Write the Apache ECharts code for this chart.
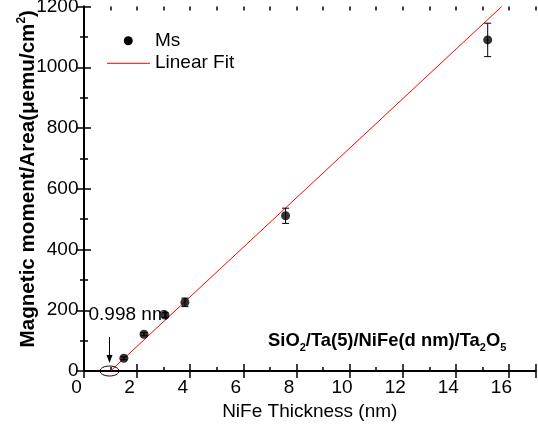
<!DOCTYPE html>
<html><head><meta charset="utf-8">
<script src="https://cdn.jsdelivr.net/npm/echarts@6/dist/echarts.min.js"></script>
<style>html,body{margin:0;padding:0;background:#fff}#c{width:538px;height:433px}</style>
</head><body><div id="c"></div>
<script>
// ---- data ----
const thickness = [1.50, 2.26, 3.05, 3.80, 7.59, 15.20];   // NiFe thickness (nm)
const moment    = [42, 121, 184, 226, 511, 1090];          // Ms (μemu/cm²)
const momentErr = [5, 5, 8, 14, 25, 55];                    // error bar half-heights
const fitX = [0.998, 15.73];                                // linear fit end points
const fitY = [0, 1200];
const xTickLabels = [0, 2, 4, 6, 8, 10, 12, 14, 16];
const yTickLabels = [0, 200, 400, 600, 800, 1000, 1200];
const interceptX = 0.998;
const interceptText = '0.998 nm';
const xTitle = 'NiFe Thickness (nm)';
const yTitle = 'Magnetic moment/Area(μemu/cm{sup|2})';
const legendNames = ['Ms', 'Linear Fit'];
const sampleText = '{b|SiO}{s|2}{b|/Ta(5)/NiFe(d nm)/Ta}{s|2}{b|O}{s|5}';

const FONT = '"Liberation Sans", Arial, sans-serif';
const chart = echarts.init(document.getElementById('c'), null, {renderer: 'canvas'});

const axisLine = {show: true, lineStyle: {color: '#000', width: 2}};
const majorTick = {show: true, inside: true, length: 7, lineStyle: {color: '#000', width: 1.5}};
const minorTickX = {show: true, inside: true, length: 4, lineStyle: {color: '#000', width: 1.5}};

const scatterData = thickness.map((x, i) => [x, moment[i]]);
const errData = thickness.map((x, i) => [x, moment[i] - momentErr[i], moment[i] + momentErr[i]]);
const fitData = fitX.map((x, i) => [x, fitY[i]]);

const xBase = {type: 'value', min: 0, max: 17, splitLine: {show: false}};
const option = {
  animation: false,
  backgroundColor: '#fff',
  grid: {left: 84, right: 2.5, top: 6.5, bottom: 62, containLabel: false, outerBoundsMode: 'none'},
  xAxis: [
    Object.assign({}, xBase, {
      position: 'bottom', interval: 2, axisLine, axisTick: majorTick,
      axisLabel: {
        color: '#000', fontSize: 19, fontFamily: FONT, margin: 7, padding: [0, 15, 0, 0],
        formatter: v => xTickLabels.indexOf(v) >= 0 ? String(v) : ''
      },
      name: xTitle, nameLocation: 'middle', nameGap: 31, nameMoveOverlap: false,
      nameTextStyle: {color: '#000', fontSize: 19, fontFamily: FONT}
    }),
    Object.assign({}, xBase, {position: 'top', interval: 2, axisLine, axisTick: majorTick, axisLabel: {show: false}}),
    Object.assign({}, xBase, {position: 'bottom', interval: 1, axisLine: {show: false}, axisTick: minorTickX, axisLabel: {show: false}}),
    Object.assign({}, xBase, {position: 'top', interval: 1, axisLine: {show: false}, axisTick: minorTickX, axisLabel: {show: false}})
  ],
  yAxis: [
    {
      type: 'value', position: 'left', min: 0, max: 1200, interval: 200,
      axisLine, axisTick: majorTick, splitLine: {show: false},
      minorTick: {show: true, splitNumber: 2, length: 4, lineStyle: {color: '#000', width: 1.5}},
      axisLabel: {
        color: '#000', fontSize: 19, fontFamily: FONT, margin: 5.5,
        formatter: v => yTickLabels.indexOf(v) >= 0 ? String(v) : ''
      },
      name: yTitle, nameLocation: 'middle', nameGap: 44, nameMoveOverlap: false,
      nameTextStyle: {
        color: '#000', fontSize: 20.6, fontWeight: 'bold', fontFamily: FONT, lineHeight: 24,
        padding: [0, 0, 0, 20],
        rich: {sup: {fontSize: 12, fontWeight: 'bold', fontFamily: FONT, verticalAlign: 'top', color: '#000'}}
      }
    },
    {
      type: 'value', position: 'right', min: 0, max: 1200, interval: 200,
      axisLine, axisTick: majorTick, splitLine: {show: false},
      minorTick: {show: true, splitNumber: 2, length: 4, lineStyle: {color: '#000', width: 1.5}},
      axisLabel: {show: false}
    }
  ],
  series: [
    {
      name: legendNames[1], type: 'line', data: fitData, xAxisIndex: 0, yAxisIndex: 0,
      symbol: 'none', lineStyle: {color: '#ff0000', width: 1}, z: 3, clip: true
    },
    {
      name: 'err', type: 'custom', xAxisIndex: 0, yAxisIndex: 0, data: errData, z: 4,
      renderItem: function (params, api) {
        const x = api.value(0);
        const lo = api.coord([x, api.value(1)]);
        const hi = api.coord([x, api.value(2)]);
        const cw = 3.5;
        const st = {stroke: '#000', lineWidth: 1};
        return {type: 'group', children: [
          {type: 'line', shape: {x1: lo[0], y1: lo[1], x2: hi[0], y2: hi[1]}, style: st},
          {type: 'line', shape: {x1: lo[0] - cw, y1: lo[1], x2: lo[0] + cw, y2: lo[1]}, style: st},
          {type: 'line', shape: {x1: hi[0] - cw, y1: hi[1], x2: hi[0] + cw, y2: hi[1]}, style: st}
        ]};
      }
    },
    {
      name: legendNames[0], type: 'scatter', data: scatterData, xAxisIndex: 0, yAxisIndex: 0,
      symbol: 'circle', symbolSize: 9, itemStyle: {color: '#000'}, z: 5
    }
  ]
};
chart.setOption(option);

// annotations / legend placed after the axes exist
const p0 = chart.convertToPixel({xAxisIndex: 0, yAxisIndex: 0}, [interceptX, 0]);
const ax = p0[0] - 1;
chart.setOption({
  graphic: [
    // legend
    {type: 'circle', shape: {cx: 128.3, cy: 40.7, r: 4.5}, style: {fill: '#000'}, z: 10},
    {type: 'text', x: 155, y: 41, style: {text: legendNames[0], font: '19px ' + FONT, fill: '#000', verticalAlign: 'middle'}, z: 10},
    {type: 'line', shape: {x1: 107, y1: 63.3, x2: 150, y2: 63.3}, style: {stroke: '#ff0000', lineWidth: 1}, z: 10},
    {type: 'text', x: 155, y: 63, style: {text: legendNames[1], font: '19px ' + FONT, fill: '#000', verticalAlign: 'middle'}, z: 10},
    // intercept annotation
    {type: 'ellipse', shape: {cx: ax, cy: p0[1], rx: 9.5, ry: 5}, style: {fill: 'none', stroke: '#000', lineWidth: 1}, z: 10},
    {type: 'line', shape: {x1: ax, y1: p0[1] - 34, x2: ax, y2: p0[1] - 12}, style: {stroke: '#000', lineWidth: 1}, z: 10},
    {type: 'polygon', shape: {points: [[ax, p0[1] - 8], [ax - 3, p0[1] - 16], [ax + 3, p0[1] - 16]]}, style: {fill: '#000'}, z: 10},
    {type: 'text', x: ax - 21, y: p0[1] - 56, style: {text: interceptText, font: '19px ' + FONT, fill: '#000', verticalAlign: 'middle'}, z: 2},
    // sample label
    {type: 'text', x: 268, y: 341, z: 10, style: {
      text: sampleText, fill: '#000', verticalAlign: 'middle',
      rich: {
        b: {fontSize: 18.4, fontWeight: 'bold', fontFamily: FONT, lineHeight: 24, verticalAlign: 'middle', fill: '#000'},
        s: {fontSize: 11, fontWeight: 'bold', fontFamily: FONT, lineHeight: 24, verticalAlign: 'bottom', fill: '#000'}
      }
    }}
  ]
});
</script>
</body></html>
